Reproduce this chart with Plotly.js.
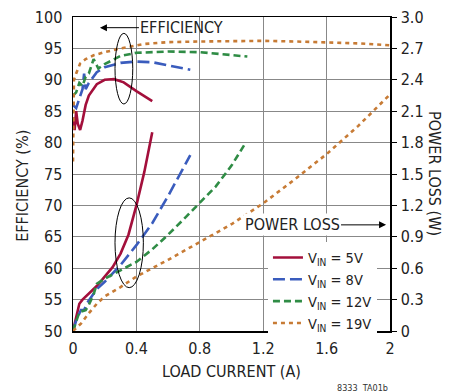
<!DOCTYPE html>
<html><head><meta charset="utf-8">
<script src="https://cdn.plot.ly/plotly-3.0.1.min.js"></script>
<style>html,body{margin:0;padding:0;background:#fff}#c{width:452px;height:392px}</style>
</head><body><div id="c"></div>
<script>
// Efficiency (%) vs load current (A)
const eff5x  = [0,0.01,0.02,0.03,0.045,0.06,0.08,0.1,0.15,0.2,0.26,0.32,0.4,0.5];
const eff5y  = [84,82,85,83,82,83.5,86,87.5,89.3,90,90.1,89.6,88.2,86.6];
const eff8x  = [0,0.02,0.04,0.06,0.07,0.08,0.1,0.15,0.2,0.3,0.4,0.5,0.6,0.74];
const eff8y  = [86,85.5,87,88.5,91,88.5,89.5,91.2,92,92.7,92.9,92.8,92.3,91.6];
const eff12x = [0,0.02,0.04,0.06,0.08,0.1,0.13,0.16,0.2,0.3,0.4,0.6,0.8,1.0,1.1];
const eff12y = [87.5,88,89.5,89,90.5,91,93.3,91.8,92.5,93.8,94.3,94.5,94.4,94,93.7];
const eff19x = [0,0.003,0.006,0.02,0.045,0.08,0.13,0.2,0.3,0.45,0.6,0.8,1.0,1.2,1.4,1.6,1.8,2.0];
const eff19y = [77,84,90,91,92.6,93.3,93.9,94.4,95,95.7,96,96.1,96.2,96.2,96.1,96,95.8,95.5];
// Power loss (W) vs load current (A)
const pl5x  = [0,0.02,0.04,0.06,0.1,0.15,0.2,0.25,0.3,0.35,0.4,0.45,0.5];
const pl5y  = [0,0.12,0.26,0.3,0.36,0.43,0.52,0.61,0.74,0.92,1.2,1.52,1.9];
const pl8x  = [0,0.02,0.05,0.07,0.09,0.15,0.2,0.3,0.4,0.5,0.6,0.74];
const pl8y  = [0,0.1,0.2,0.2,0.27,0.4,0.47,0.63,0.82,1.03,1.29,1.68];
const pl12x = [0,0.02,0.04,0.08,0.1,0.13,0.15,0.2,0.3,0.4,0.5,0.6,0.7,0.8,0.9,1.0,1.09];
const pl12y = [0,0.1,0.18,0.2,0.25,0.35,0.45,0.5,0.58,0.66,0.78,0.92,1.07,1.22,1.38,1.58,1.8];
const pl19x = [0,0.05,0.1,0.15,0.2,0.3,0.4,0.5,0.6,0.8,1.0,1.2,1.4,1.6,1.8,2.0];
const pl19y = [0,0.07,0.17,0.26,0.33,0.42,0.52,0.6,0.68,0.85,1.02,1.22,1.45,1.69,1.96,2.26];

const names = ['V<sub>IN</sub> = 5V','V<sub>IN</sub> = 8V','V<sub>IN</sub> = 12V','V<sub>IN</sub> = 19V'];
const colors = ['#a30f3b','#3a5cbd','#2f8c45','#c77b35'];
const dashes = ['solid','12px,5px','7px,4px','4px,4px'];
const xTicks = [0,0.4,0.8,1.2,1.6,2];
const xTickText = ['0','0.4','0.8','1.2','1.6','2'];
const yTicks = [50,55,60,65,70,75,80,85,90,95,100];
const y2Ticks = [0,0.3,0.6,0.9,1.2,1.5,1.8,2.1,2.4,2.7,3.0];
const y2TickText = ['0','0.3','0.6','0.9','1.2','1.5','1.8','2.1','2.4','2.7','3.0'];

const effX = [eff5x,eff8x,eff12x,eff19x], effY = [eff5y,eff8y,eff12y,eff19y];
const plX = [pl5x,pl8x,pl12x,pl19x], plY = [pl5y,pl8y,pl12y,pl19y];
const traces = [];
for (let i=0;i<4;i++){
  traces.push({x:effX[i],y:effY[i],type:'scatter',mode:'lines',name:names[i],legendgroup:'g'+i,
    line:{color:colors[i],width:2.6,dash:dashes[i]},yaxis:'y',showlegend:true});
}
for (let i=0;i<4;i++){
  traces.push({x:plX[i],y:plY[i],type:'scatter',mode:'lines',name:names[i],legendgroup:'g'+i,
    line:{color:colors[i],width:2.6,dash:dashes[i]},yaxis:'y2',showlegend:false});
}
const F = 'Liberation Sans Narrow, DejaVu Sans Condensed, Arial Narrow, sans-serif';
const layout = {
  width:452,height:392,margin:{l:73,r:62,t:17,b:61},
  paper_bgcolor:'#fff',plot_bgcolor:'#fff',showlegend:true,
  font:{family:F,size:16,color:'#222'},
  xaxis:{range:[0,2],tickvals:xTicks,ticktext:xTickText,showgrid:true,gridcolor:'#888',gridwidth:1,
    showline:true,linecolor:'#000',linewidth:1.5,mirror:true,zeroline:false,ticks:'',ticklabelstandoff:2},
  yaxis:{range:[50,100],tickvals:yTicks,showgrid:true,gridcolor:'#888',gridwidth:1,
    showline:true,linecolor:'#000',linewidth:1.5,zeroline:false,ticks:'',ticklabelstandoff:6},
  yaxis2:{range:[0,3],tickvals:y2Ticks,ticktext:y2TickText,overlaying:'y',side:'right',showgrid:false,
    showline:true,linecolor:'#000',linewidth:1.5,zeroline:false,ticks:'outside',ticklen:5,tickcolor:'#000',ticklabelstandoff:1},
  legend:{x:0.615,y:0.285,xanchor:'left',yanchor:'top',bgcolor:'#fff',font:{size:14.5},tracegroupgap:0,itemwidth:30},
  shapes:[
    {type:'circle',xref:'x',yref:'y',x0:0.265,x1:0.377,y0:86.15,y1:97.4,line:{color:'#000',width:1}},
    {type:'circle',xref:'x',yref:'y',x0:0.265,x1:0.444,y0:56.9,y1:71.2,line:{color:'#000',width:1}}
  ],
  annotations:[
    {x:0.17,y:98.3,xref:'x',yref:'y',text:'EFFICIENCY',showarrow:true,ax:82,ay:0,arrowhead:2,arrowsize:1.4,arrowwidth:1,arrowcolor:'#000',font:{size:16,color:'#222'},bgcolor:'rgba(0,0,0,0)'},
    {x:1.975,y:66.9,xref:'x',yref:'y',text:'POWER LOSS',showarrow:true,ax:-94,ay:0,arrowhead:2,arrowsize:1.4,arrowwidth:1,arrowcolor:'#000',font:{size:16,color:'#222'},bgcolor:'#fff'},
    {xref:'paper',yref:'paper',x:-0.158,y:0.462,xanchor:'center',yanchor:'middle',text:'EFFICIENCY (%)',textangle:-90,showarrow:false,font:{size:16}},
    {xref:'paper',yref:'paper',x:1.142,y:0.503,xanchor:'center',yanchor:'middle',text:'POWER LOSS (W)',textangle:90,showarrow:false,font:{size:16}},
    {xref:'paper',yref:'paper',x:0.5,y:-0.13,xanchor:'center',yanchor:'middle',text:'LOAD CURRENT (A)',showarrow:false,font:{size:16}},
    {xref:'paper',yref:'paper',x:1.0,y:-0.18,xanchor:'right',yanchor:'middle',text:'8333  TA01b',showarrow:false,font:{size:9,color:'#333'}}
  ]
};
Plotly.newPlot('c',traces,layout,{displayModeBar:false,staticPlot:true});
</script></body></html>
